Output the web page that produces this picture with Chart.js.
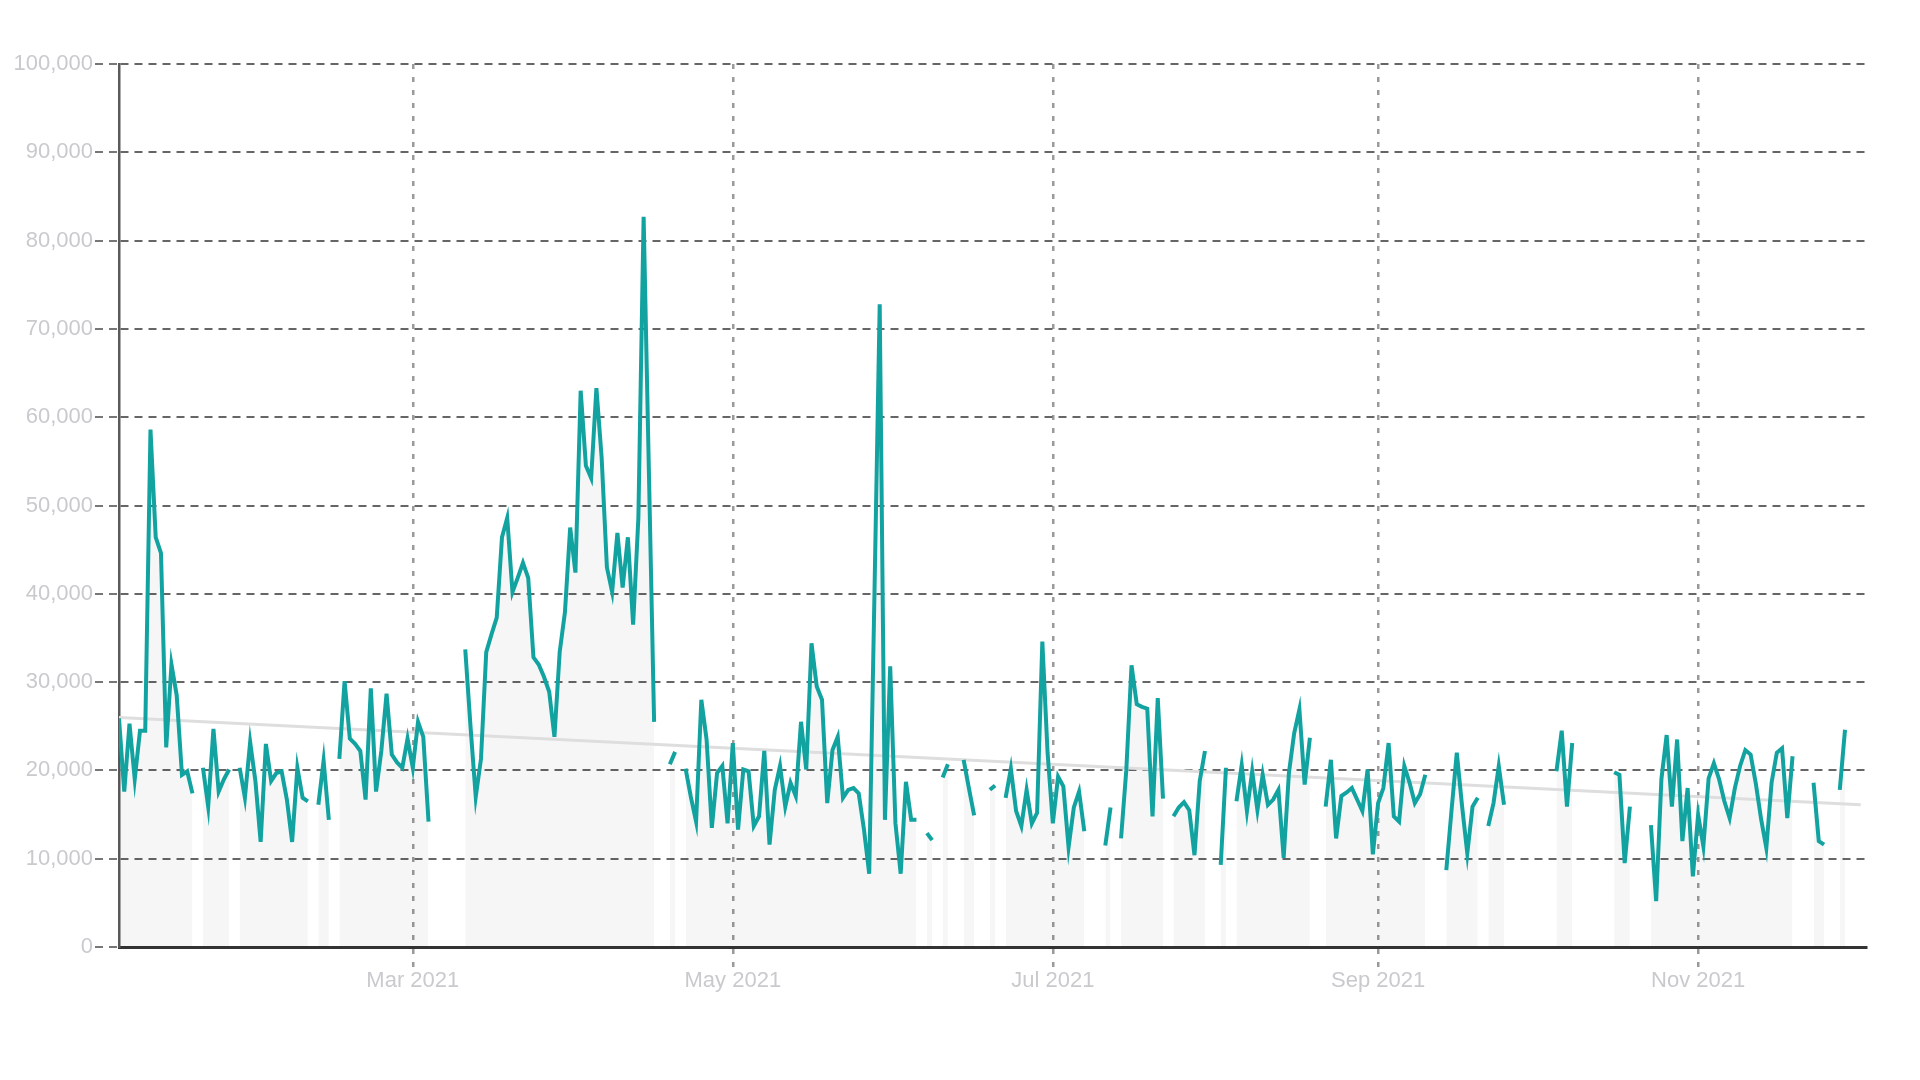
<!DOCTYPE html>
<html>
<head>
<meta charset="utf-8">
<title>Daily values 2021</title>
<script src="https://cdn.jsdelivr.net/npm/chart.js@4.4.0/dist/chart.umd.min.js"></script>
<style>
  html, body { margin: 0; padding: 0; background: #fff; }
  canvas { display: block; }
</style>
</head>
<body>
<canvas id="myChart" width="1920" height="1080"></canvas>
<script>
// day 0 on the x axis is 4 Jan 2021, one value per day, null = no data
var jan = [25900, 17600, 25300, 19000, 24500, 24500, 58600, 46400, 44600, 22600, 32000, 28500, 19500, 19900,
  17400, null, 20300, 15900, 24700, 17600, 19000, 20100, null, 20300, 16900, 23200, 18800, 11900];
var feb = [23000, 18800, 19700, 19900, 16700, 11900, 20300, 16900, 16500, null, 16100, 21100, 14400, null,
  21300, 30100, 23600, 23000, 22200, 16700, 29300, 17600, 22200, 28700, 21800, 20900, 20300, 23600];
var mar = [20300, 25500, 23800, 14200, null, null, null, null, null, null, 33700, 25000, 17000, 21300, 33400,
  35400, 37300, 46400, 48600, 40200, 41800, 43500, 41800, 32800, 32000, 30600, 28900, 23800, 33400, 37900, 47500];
var apr = [42400, 63000, 54500, 53100, 63300, 55400, 43000, 40200, 46900, 40700, 46400, 36500, 48600, 82700,
  54000, 25500, null, null, 20700, 22100, null, 20200, 17000, 14200, 28000, 23500, 13500, 19700, 20500, 14000];
var may = [23100, 13300, 20100, 19900, 13700, 14800, 22200, 11600, 17800, 20500, 15900, 18600, 17100, 25500,
  20100, 34400, 29500, 28000, 16300, 22300, 23800, 16900, 17800, 18000, 17400, 13300, 8300, 40000, 72800, 14400, 31800];
var jun = [14000, 8300, 18700, 14400, 14400, null, 12900, 12100, null, 19200, 20700, null, null, 21200, 18000,
  14900, null, null, 17800, 18300, null, 16900, 20200, 15400, 13700, 17800, 14000, 15200, 34600, 22000];
var jul = [14000, 19300, 18200, 11300, 15800, 17600, 13100, null, null, null, 11500, 15800, null, 12300, 20000,
  31900, 27500, 27200, 27000, 14800, 28200, 16800, null, 14800, 15800, 16400, 15500, 10400, 18800, 22200, null];
var aug = [null, 9300, 20300, null, 16500, 20600, 15400, 19900, 15500, 19500, 16100, 16700, 17800, 10100, 19700,
  24200, 26900, 18400, 23700, null, null, 15900, 21200, 12300, 17100, 17500, 18000, 16700, 15400, 20100, 10500];
var sep = [16300, 18000, 23100, 14800, 14200, 20500, 18600, 16300, 17300, 19500, null, null, null, 8700, 15500,
  22000, 16000, 10600, 15900, 16900, null, 13700, 16300, 20500, 16100, null, null, null, null, null];
var oct = [null, null, null, null, 19900, 24500, 15900, 23100, null, null, null, null, null, null, null, 19800,
  19500, 9500, 15900, null, null, null, 13800, 5200, 19000, 24000, 15900, 23500, 12000, 18000, 8000];
var nov = [15000, 11400, 19100, 20800, 19000, 16500, 14600, 18000, 20500, 22300, 21800, 18500, 14500, 11200,
  18600, 22000, 22500, 14600, 21600, null, null, null, 18600, 12000, 11600, null, null, 17800, 24600];

// x axis labels sit on the first day of these months
var tickDays = [56, 117, 178, 240, 301];
var tickLabels = ['Mar 2021', 'May 2021', 'Jul 2021', 'Sep 2021', 'Nov 2021'];
var lastDay = 333;

// straight trend line (start day / end day)
var trendDays = [0, 332];
var trendValues = [26000, 16100];

var values = jan.concat(feb, mar, apr, may, jun, jul, aug, sep, oct, nov);
var points = values.map(function (v, i) { return { x: i, y: v }; });
var trend = trendDays.map(function (d, i) { return { x: d, y: trendValues[i] }; });

var tickFont = { family: "'Liberation Sans', Arial, sans-serif", size: 22 };
var tickColor = '#cacace';

var ctx = document.getElementById('myChart').getContext('2d');

var myChart = new Chart(ctx, {
  type: 'line',
  data: {
    datasets: [{
      label: 'Daily',
      data: points,
      borderColor: '#12a3a1',
      borderWidth: 4,
      backgroundColor: 'rgba(0, 0, 0, 0.035)',
      fill: 'origin',
      pointRadius: 0,
      tension: 0,
      spanGaps: false,
      order: 0
    }, {
      label: 'Trend',
      data: trend,
      borderColor: '#dedede',
      borderWidth: 3,
      fill: false,
      pointRadius: 0,
      order: 1
    }]
  },
  options: {
    responsive: false,
    animation: false,
    devicePixelRatio: 1,
    layout: { padding: { left: 0, right: 54, top: 64, bottom: 0 } },
    plugins: {
      legend: { display: false },
      tooltip: { enabled: false },
      filler: { drawTime: 'beforeDatasetsDraw' }
    },
    scales: {
      x: {
        type: 'linear',
        min: 0,
        max: lastDay,
        afterFit: function (scale) { scale.height = 133; },
        afterBuildTicks: function (scale) {
          scale.ticks = tickDays.map(function (d) { return { value: d }; });
        },
        ticks: {
          autoSkip: false,
          maxRotation: 0,
          padding: 1,
          color: tickColor,
          font: tickFont,
          callback: function (value) {
            var i = tickDays.indexOf(value);
            return i < 0 ? '' : tickLabels[i];
          }
        },
        grid: {
          color: '#9a9a9a',
          lineWidth: 2.5,
          tickLength: 20,
          tickColor: '#9a9a9a',
          tickWidth: 2.5,
          tickBorderDash: [5, 8]
        },
        border: { color: '#333', width: 3, dash: [5, 8] }
      },
      y: {
        min: 0,
        max: 100000,
        afterFit: function (scale) { scale.width = 119; },
        ticks: {
          stepSize: 10000,
          padding: 2,
          color: tickColor,
          font: tickFont,
          callback: function (value) { return value.toLocaleString('en-US'); }
        },
        grid: {
          color: '#666',
          lineWidth: 2,
          tickLength: 24,
          tickColor: '#777',
          tickWidth: 2,
          tickBorderDash: [8, 6]
        },
        border: { color: '#5a5a5a', width: 2.5, dash: [8, 6] }
      }
    }
  }
});
</script>
</body>
</html>
